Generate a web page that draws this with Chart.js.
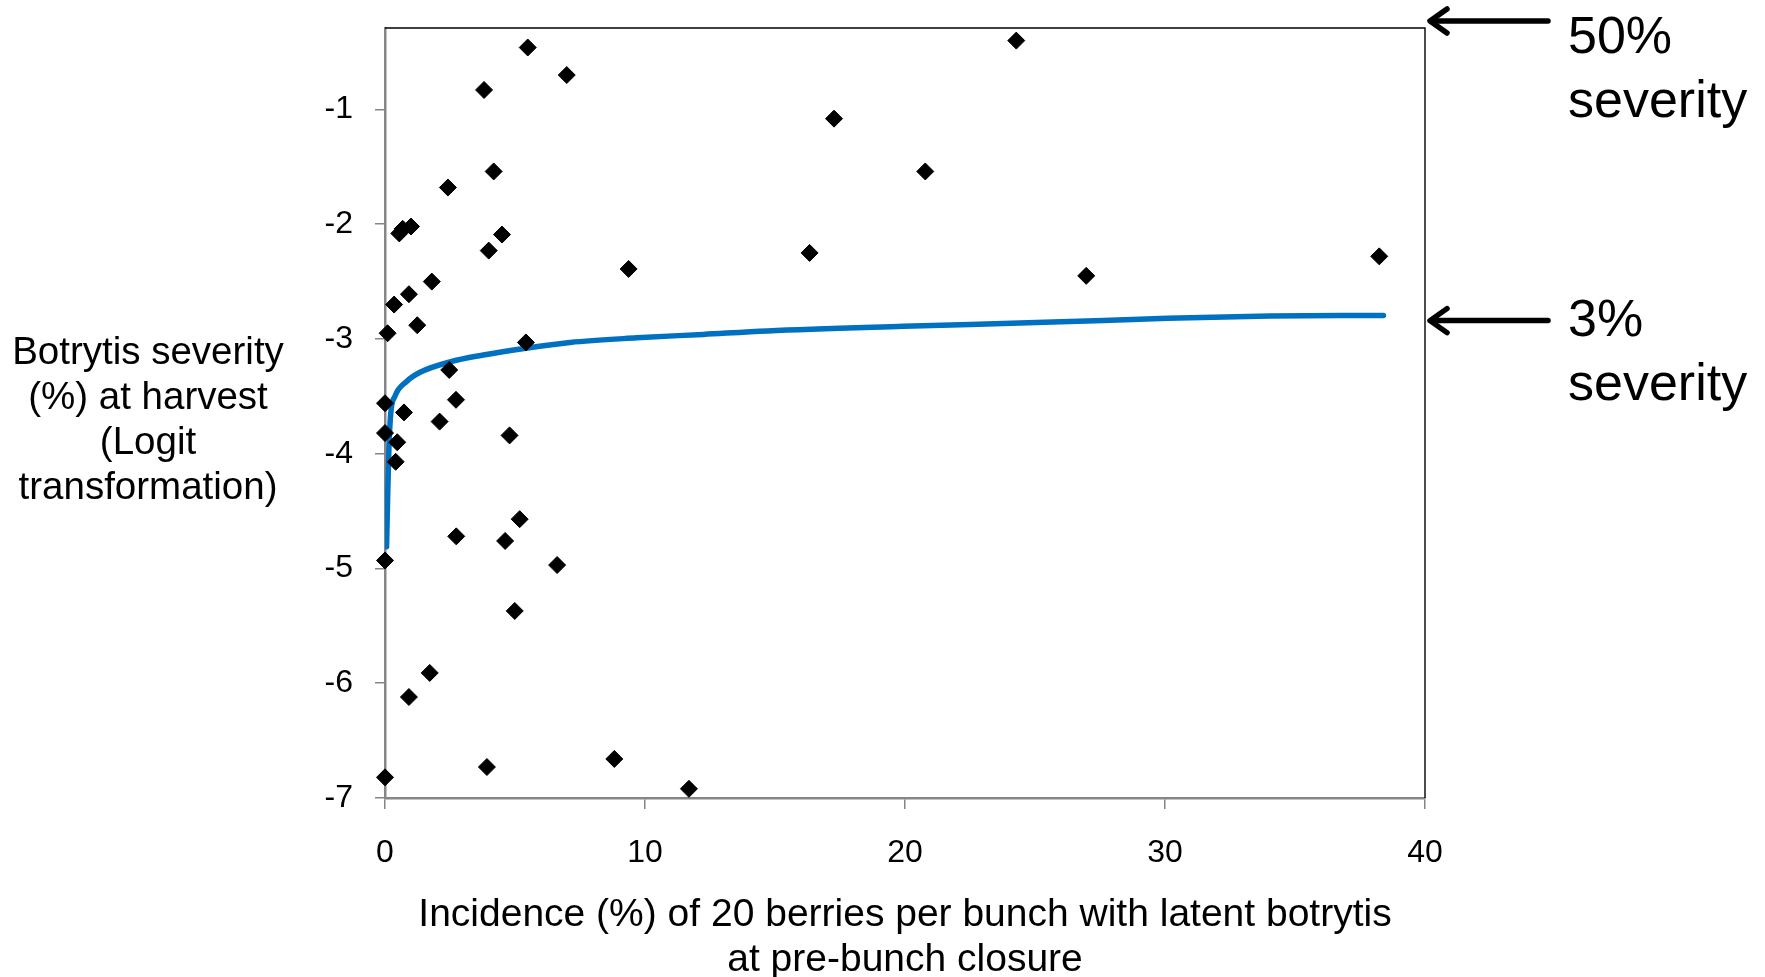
<!DOCTYPE html>
<html>
<head>
<meta charset="utf-8">
<title>Botrytis severity at harvest vs latent incidence</title>
<script src="https://cdn.jsdelivr.net/npm/chart.js@4.4.1/dist/chart.umd.min.js"></script>
<style>
    html, body { margin: 0; padding: 0; background: #fff; }
    #wrap { width: 1765px; height: 977px; }
</style>
</head>
<body>
<div id="wrap"><canvas id="botrytisChart" width="1765" height="977"></canvas></div>
<script>
// incidence (%) of latent botrytis at pre-bunch closure (x) and severity at harvest, logit (y)
const incidence = [5.49, 6.99, 3.81, 4.18, 2.42, 0.55, 0.68, 1.00, 4.50, 3.99, 9.37, 1.80, 0.92, 0.35, 1.24,
    0.10, 5.42, 2.47, 0.00, 2.73, 0.73, 2.10, 0.00, 4.79, 0.47, 0.41, 5.18, 2.74, 4.62, 0.00, 6.62, 4.99,
    1.72, 0.92, 8.82, 3.92, 0.00, 11.69, 24.28, 17.27, 20.78, 16.33, 26.97, 38.24];
const severity = [-0.46, -0.70, -0.83, -1.54, -1.68, -2.08, -2.04, -2.02, -2.09, -2.23, -2.39, -2.50, -2.61, -2.70, -2.88,
    -2.95, -3.03, -3.27, -3.56, -3.53, -3.64, -3.72, -3.82, -3.84, -3.90, -4.07, -4.57, -4.72, -4.76, -4.93, -4.97, -5.37,
    -5.91, -6.12, -6.66, -6.73, -6.82, -6.92, -0.40, -1.08, -1.54, -2.25, -2.45, -2.28];

// fitted curve
const fitX = [0.06, 0.10, 0.15, 0.22, 0.38, 0.83, 1.35, 2.5, 3.78, 5.42, 7.12, 9.68, 12.24, 14.7, 19.94, 23.78, 27.63, 30.1, 34.04, 38.4];
const fitY = [-4.81, -4.40, -3.96, -3.65, -3.50, -3.37, -3.29, -3.20, -3.14, -3.08, -3.03, -2.99, -2.96, -2.93, -2.89, -2.865, -2.84, -2.82, -2.80, -2.795];

const yTicks = [-7, -6, -5, -4, -3, -2, -1];
const yTitle = ['Botrytis severity', '(%) at harvest', '(Logit', 'transformation)'];
const xTitle = ['Incidence (%) of 20 berries per bunch with latent botrytis', 'at pre-bunch closure'];
const noteTop = ['50%', 'severity'];
const noteMid = ['3%', 'severity'];

const FONT = '"Liberation Sans", Arial, sans-serif';

function drawArrow(ctx, x1, x2, y) {
    ctx.beginPath();
    ctx.moveTo(x2, y);
    ctx.lineTo(x1 + 2, y);
    ctx.stroke();
    ctx.beginPath();
    ctx.moveTo(x1 + 17, y - 12);
    ctx.lineTo(x1, y);
    ctx.lineTo(x1 + 17, y + 12);
    ctx.stroke();
}

// frame, axis titles and the side notes
const figureText = {
    id: 'figureText',
    beforeDatasetsDraw(chart) {
        const { ctx, chartArea: a } = chart;
        ctx.save();
        ctx.strokeStyle = '#000';
        ctx.lineWidth = 1.4;
        ctx.beginPath();
        ctx.moveTo(a.left, a.top);
        ctx.lineTo(a.right, a.top);
        ctx.lineTo(a.right, a.bottom);
        ctx.stroke();
        ctx.restore();
    },
    afterDraw(chart) {
        const { ctx, chartArea: a, scales } = chart;
        ctx.save();
        ctx.fillStyle = '#000';
        ctx.textBaseline = 'alphabetic';
        ctx.textAlign = 'center';

        ctx.font = '38.5px ' + FONT;
        yTitle.forEach((line, i) => ctx.fillText(line, 148, 364 + i * 45));

        ctx.font = '39px ' + FONT;
        const midX = (a.left + a.right) / 2;
        xTitle.forEach((line, i) => ctx.fillText(line, midX, 926 + i * 45));

        // arrows pointing at the 50% and 3% levels
        const yMid = scales.y.getPixelForValue(-2.84);
        const yTop = a.top - 7;
        ctx.strokeStyle = '#000';
        ctx.lineWidth = 5.5;
        ctx.lineCap = 'round';
        ctx.lineJoin = 'round';
        drawArrow(ctx, a.right + 5, a.right + 123, yTop);
        drawArrow(ctx, a.right + 5, a.right + 123, yMid);

        ctx.textAlign = 'left';
        ctx.font = '52px ' + FONT;
        const tx = a.right + 143;
        ctx.fillText(noteTop[0], tx, yTop + 32);
        ctx.fillText(noteTop[1], tx, yTop + 95.5);
        ctx.fillText(noteMid[0], tx, yMid + 15.7);
        ctx.fillText(noteMid[1], tx, yMid + 79);
        ctx.restore();
    }
};

const points = incidence.map((x, i) => ({ x: x, y: severity[i] }));
const curve = fitX.map((x, i) => ({ x: x, y: fitY[i] }));

new Chart(document.getElementById('botrytisChart').getContext('2d'), {
    type: 'scatter',
    data: {
        datasets: [
            {
                label: 'Observed',
                data: points,
                pointStyle: 'rectRot',
                pointRadius: 8.5,
                pointBackgroundColor: '#000',
                pointBorderColor: '#000',
                pointBorderWidth: 1,
                clip: false,
                order: 0,
            },
            {
                type: 'line',
                label: 'Fitted',
                data: curve,
                showLine: true,
                borderColor: '#0070C0',
                borderWidth: 5.5,
                borderCapStyle: 'round',
                cubicInterpolationMode: 'monotone',
                pointRadius: 0,
                fill: false,
                order: 1,
            },
        ],
    },
    options: {
        responsive: false,
        animation: false,
        devicePixelRatio: 1,
        layout: { padding: { left: 265, right: 340, top: 28, bottom: 79 } },
        plugins: {
            legend: { display: false },
            tooltip: { enabled: false },
        },
        scales: {
            x: {
                type: 'linear',
                min: 0,
                max: 40,
                ticks: { stepSize: 10, color: '#000', padding: 25, font: { size: 32, family: FONT } },
                grid: { drawOnChartArea: false, color: '#868686', tickLength: 11, lineWidth: 1.5 },
                border: { color: '#868686', width: 2.5 },
                afterFit(scale) {
                    scale.height = 100;
                    scale.paddingLeft = 0;
                    scale.paddingRight = 0;
                },
            },
            y: {
                type: 'linear',
                min: -7,
                max: -0.29,
                ticks: { color: '#000', padding: 22, font: { size: 32, family: FONT } },
                grid: { drawOnChartArea: false, color: '#868686', tickLength: 10, lineWidth: 1.5 },
                border: { color: '#868686', width: 2.5 },
                afterBuildTicks(scale) {
                    scale.ticks = yTicks.map(v => ({ value: v }));
                },
                afterFit(scale) {
                    scale.width = 120;
                    scale.paddingTop = 0;
                    scale.paddingBottom = 0;
                },
            },
        },
    },
    plugins: [figureText],
});
</script>
</body>
</html>
